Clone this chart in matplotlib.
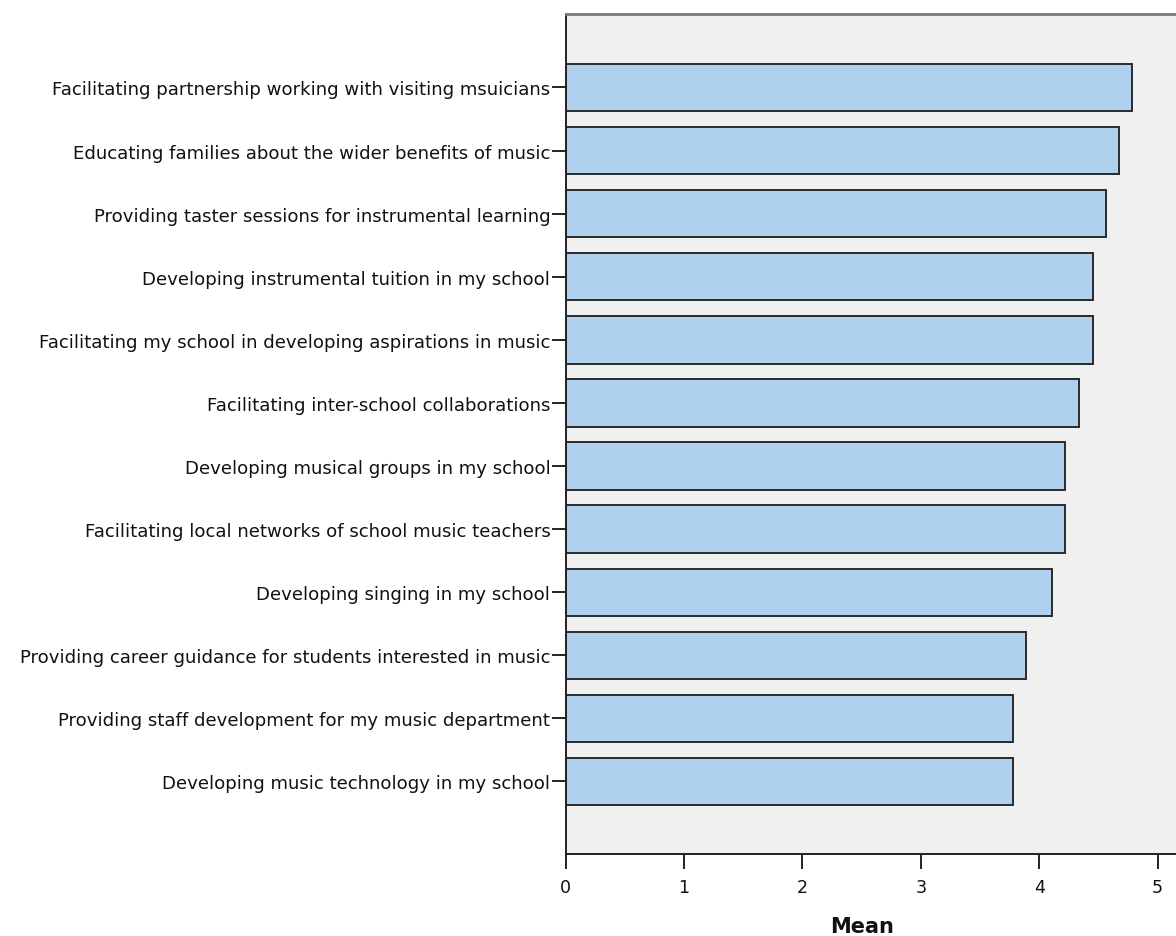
import matplotlib.pyplot as plt

plt.rcParams['font.family'] = ['DejaVu Sans']

# Items, top to bottom, and their mean ratings
items = [
    'Facilitating partnership working with visiting msuicians',
    'Educating families about the wider benefits of music',
    'Providing taster sessions for instrumental learning',
    'Developing instrumental tuition in my school',
    'Facilitating my school in developing aspirations in music',
    'Facilitating inter-school collaborations',
    'Developing musical groups in my school',
    'Facilitating local networks of school music teachers',
    'Developing singing in my school',
    'Providing career guidance for students interested in music',
    'Providing staff development for my music department',
    'Developing music technology in my school',
]
means = [4.78, 4.67, 4.56, 4.45, 4.45, 4.34, 4.22, 4.22, 4.11, 3.89, 3.78, 3.78]
x_ticks = [0, 1, 2, 3, 4, 5]

fig = plt.figure(figsize=(11.76, 9.37), dpi=100)
ax = fig.add_axes([565.6 / 1176, 1 - 855 / 937, 1 - 565.6 / 1176, (855 - 15) / 937])
ax.set_facecolor('#F0F0F0')

pos = list(range(len(items)))
ax.barh(pos, means, height=0.75, color='#AECFEE', edgecolor='#2a2a2a', linewidth=1.4, zorder=2)

ax.set_ylim(12.15, -1.165)
ax.set_xlim(0, 5.155)
ax.set_yticks(pos)
ax.set_yticklabels(items, fontsize=13.1, color='#111111')
ax.set_xticks(x_ticks)
ax.set_xticklabels([str(t) for t in x_ticks], fontsize=12.6, color='#111111')
ax.tick_params(axis='y', length=10, width=1.4, pad=1, color='#222222')
ax.tick_params(axis='x', length=11, width=1.4, pad=6, color='#222222')

ax.spines['left'].set_linewidth(1.4)
ax.spines['left'].set_color('#222222')
ax.spines['bottom'].set_linewidth(1.4)
ax.spines['bottom'].set_color('#222222')
ax.spines['top'].set_linewidth(2)
ax.spines['top'].set_color('#7a7a7a')
ax.spines['right'].set_visible(False)

ax.set_xlabel('Mean', fontsize=15, fontweight='bold', color='#111111')
ax.xaxis.set_label_coords(0.4856, -0.074)

plt.savefig('out.png', dpi=100, facecolor='white')
plt.close()
